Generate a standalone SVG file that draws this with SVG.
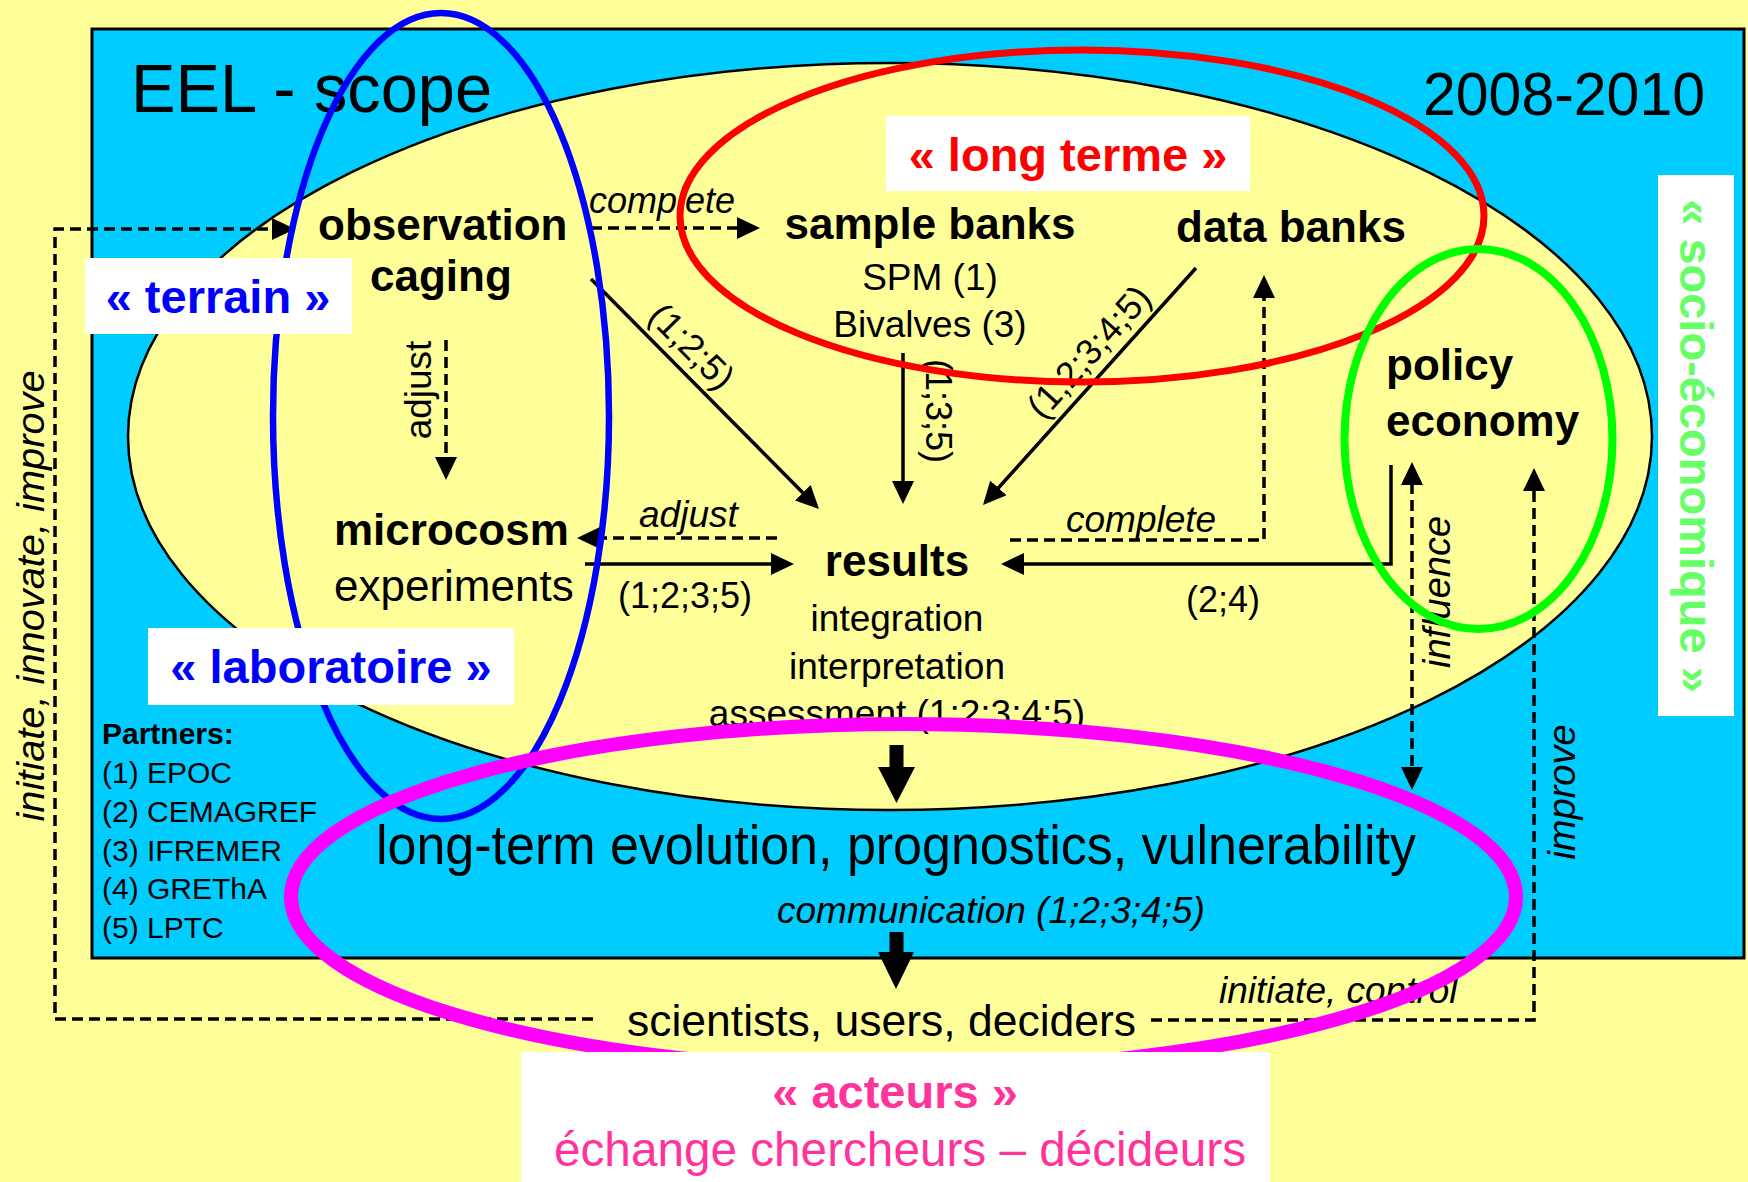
<svg xmlns="http://www.w3.org/2000/svg" width="1748" height="1182" viewBox="0 0 1748 1182">
<defs>
<style>
text{font-family:"Liberation Sans",Arial,Helvetica,sans-serif;fill:#000}
.b{font-weight:bold}
.i{font-style:italic}
.s44{font-size:44px}
.s37{font-size:37px}
.s36{font-size:36px}
.s30{font-size:30px}
.lab{font-weight:bold;font-size:47px}
.dash{fill:none;stroke:#000;stroke-width:3.5;stroke-dasharray:11 6}
.solid{fill:none;stroke:#000;stroke-width:3.5}
.box{fill:#fff}
.ring{fill:none}
</style>
<marker id="ah" viewBox="0 0 23 22" refX="19" refY="11" markerWidth="23" markerHeight="22" markerUnits="userSpaceOnUse" orient="auto-start-reverse">
<path d="M0,0 L23,11 L0,22 z" fill="#000"/>
</marker>
</defs>

<rect width="1748" height="1182" fill="#FFFF99"/>
<rect id="scope-frame" x="92" y="29" width="1652" height="929" fill="#00CCFF" stroke="#000" stroke-width="3"/>
<ellipse id="scope-core" cx="890" cy="436.5" rx="762" ry="373.5" fill="#FFFF99" stroke="#000" stroke-width="2.5"/>

<g id="title"><text x="131" y="112" font-size="68" textLength="361" lengthAdjust="spacingAndGlyphs">EEL - scope</text></g>
<g id="period"><text x="1423" y="115" font-size="61" textLength="282" lengthAdjust="spacingAndGlyphs">2008-2010</text></g>

<g id="observation">
<text class="b s44" x="318" y="240">observation</text>
<text class="b s44" x="370" y="291">caging</text>
</g>
<g id="sample-banks" text-anchor="middle">
<text class="b s44" x="930" y="239">sample banks</text>
<text class="s37" x="930" y="290">SPM (1)</text>
<text class="s37" x="930" y="337">Bivalves (3)</text>
</g>
<g id="data-banks"><text class="b s44" x="1176" y="242">data banks</text></g>
<g id="policy-economy">
<text class="b s44" x="1386" y="380">policy</text>
<text class="b s44" x="1386" y="436">economy</text>
</g>
<g id="microcosm">
<text class="b s44" x="334" y="545">microcosm</text>
<text class="s44" x="334" y="601">experiments</text>
</g>
<g id="results" text-anchor="middle">
<text class="b s44" x="897" y="576">results</text>
<text class="s37" x="897" y="631">integration</text>
<text class="s37" x="897" y="679">interpretation</text>
<text class="s37" x="897" y="726">assessment (1;2;3;4;5)</text>
</g>
<g id="long-term">
<text x="376" y="864" font-size="55" textLength="1040" lengthAdjust="spacingAndGlyphs">long-term evolution, prognostics, vulnerability</text>
<text class="i s37" x="777" y="923">communication (1;2;3;4;5)</text>
</g>
<g id="actors"><text x="627" y="1036" font-size="45" textLength="509" lengthAdjust="spacingAndGlyphs">scientists, users, deciders</text></g>
<g id="partners">
<text class="b s30" x="102" y="744">Partners:</text>
<text class="s30" x="102" y="783">(1) EPOC</text>
<text class="s30" x="102" y="822">(2) CEMAGREF</text>
<text class="s30" x="102" y="861">(3) IFREMER</text>
<text class="s30" x="102" y="899">(4) GREThA</text>
<text class="s30" x="102" y="938">(5) LPTC</text>
</g>

<g id="connectors">
<path class="dash" d="M593,1019 H55 V229 H291" marker-end="url(#ah)"/>
<path class="dash" d="M591,228 H756" marker-end="url(#ah)"/>
<path class="solid" d="M591,279 L816.2,506.2" marker-end="url(#ah)"/>
<path class="solid" d="M903,353 V500" marker-end="url(#ah)"/>
<path class="solid" d="M1196,268 L985.7,502" marker-end="url(#ah)"/>
<path class="dash" d="M446,340 V476" marker-end="url(#ah)"/>
<path class="dash" d="M777,538 H581" marker-end="url(#ah)"/>
<path class="solid" d="M585,564 H790" marker-end="url(#ah)"/>
<path class="dash" d="M1010,540 H1264 V279" marker-end="url(#ah)"/>
<path class="solid" d="M1391,465 V564 H1005" marker-end="url(#ah)"/>
<path class="dash" d="M1412,466 V786" marker-start="url(#ah)" marker-end="url(#ah)"/>
<path class="dash" d="M1151,1020 H1534 V472" marker-end="url(#ah)"/>
<path d="M889.5,745 H903.5 V767 H915 L896.5,803 L878,767 H889.5 Z" fill="#000"/>
<path d="M889.5,932 H903.5 V952 H914 L896,989 L878,952 H889.5 Z" fill="#000"/>
<text class="i s36" x="589" y="213">complete</text>
<text class="s36" transform="translate(683,355) rotate(45.3)" text-anchor="middle">(1;2;5)</text>
<text class="s36" transform="translate(926,411) rotate(90)" text-anchor="middle">(1;3;5)</text>
<text class="s36" transform="translate(1098,360) rotate(-48)" text-anchor="middle">(1;2;3;4;5)</text>
<text class="s37" transform="translate(431,390) rotate(-90)" text-anchor="middle">adjust</text>
<text class="i s37" x="639" y="527">adjust</text>
<text class="s36" x="618" y="608">(1;2;3;5)</text>
<text class="i s37" x="1066" y="532">complete</text>
<text class="s36" x="1186" y="612">(2;4)</text>
<text class="i" font-size="38" transform="translate(1450,592) rotate(-90)" text-anchor="middle">influence</text>
<text class="i" font-size="38" transform="translate(1575,792) rotate(-90)" text-anchor="middle">improve</text>
<text class="i" font-size="38" transform="translate(44,596) rotate(-90)" text-anchor="middle" textLength="451" lengthAdjust="spacingAndGlyphs">initiate, innovate, improve</text>
<text class="i s37" x="1219" y="1003">initiate, control</text>
</g>

<g id="ring-terrain"><ellipse class="ring" cx="441" cy="416" rx="168" ry="403" stroke="#0000FF" stroke-width="6.5"/></g>
<g id="ring-long-terme"><ellipse class="ring" cx="1082" cy="216" rx="402" ry="166" stroke="#FF0000" stroke-width="7"/></g>
<g id="ring-socio"><ellipse class="ring" cx="1478.5" cy="439" rx="134" ry="190" stroke="#00FF00" stroke-width="8"/></g>
<g id="ring-acteurs"><ellipse class="ring" cx="903.5" cy="897" rx="612.5" ry="173" stroke="#FF00FF" stroke-width="14"/></g>

<g id="label-terrain"><rect class="box" x="85" y="258" width="267" height="76"/><text class="lab" x="218" y="313" text-anchor="middle" font-size="46" style="fill:#0000FF">« terrain »</text></g>
<g id="label-laboratoire"><rect class="box" x="148" y="628" width="366" height="77"/><text class="lab" x="331" y="683" text-anchor="middle" style="fill:#0000FF">« laboratoire »</text></g>
<g id="label-long-terme"><rect class="box" x="886" y="116" width="364" height="75"/><text class="lab" x="1068" y="171" text-anchor="middle" style="fill:#FF0000">« long terme »</text></g>
<g id="label-socio"><rect class="box" x="1658" y="175" width="76" height="541"/><text class="lab" transform="translate(1680,446) rotate(90)" text-anchor="middle" style="fill:#66FF66">« socio-économique »</text></g>
<g id="label-acteurs"><rect class="box" x="521" y="1052" width="749" height="130"/><text class="lab" x="895" y="1108" text-anchor="middle" style="fill:#FF3399">« acteurs »</text><text x="900" y="1166" font-size="48" text-anchor="middle" textLength="692" lengthAdjust="spacingAndGlyphs" style="fill:#FF3399">échange chercheurs – décideurs</text></g>
</svg>
